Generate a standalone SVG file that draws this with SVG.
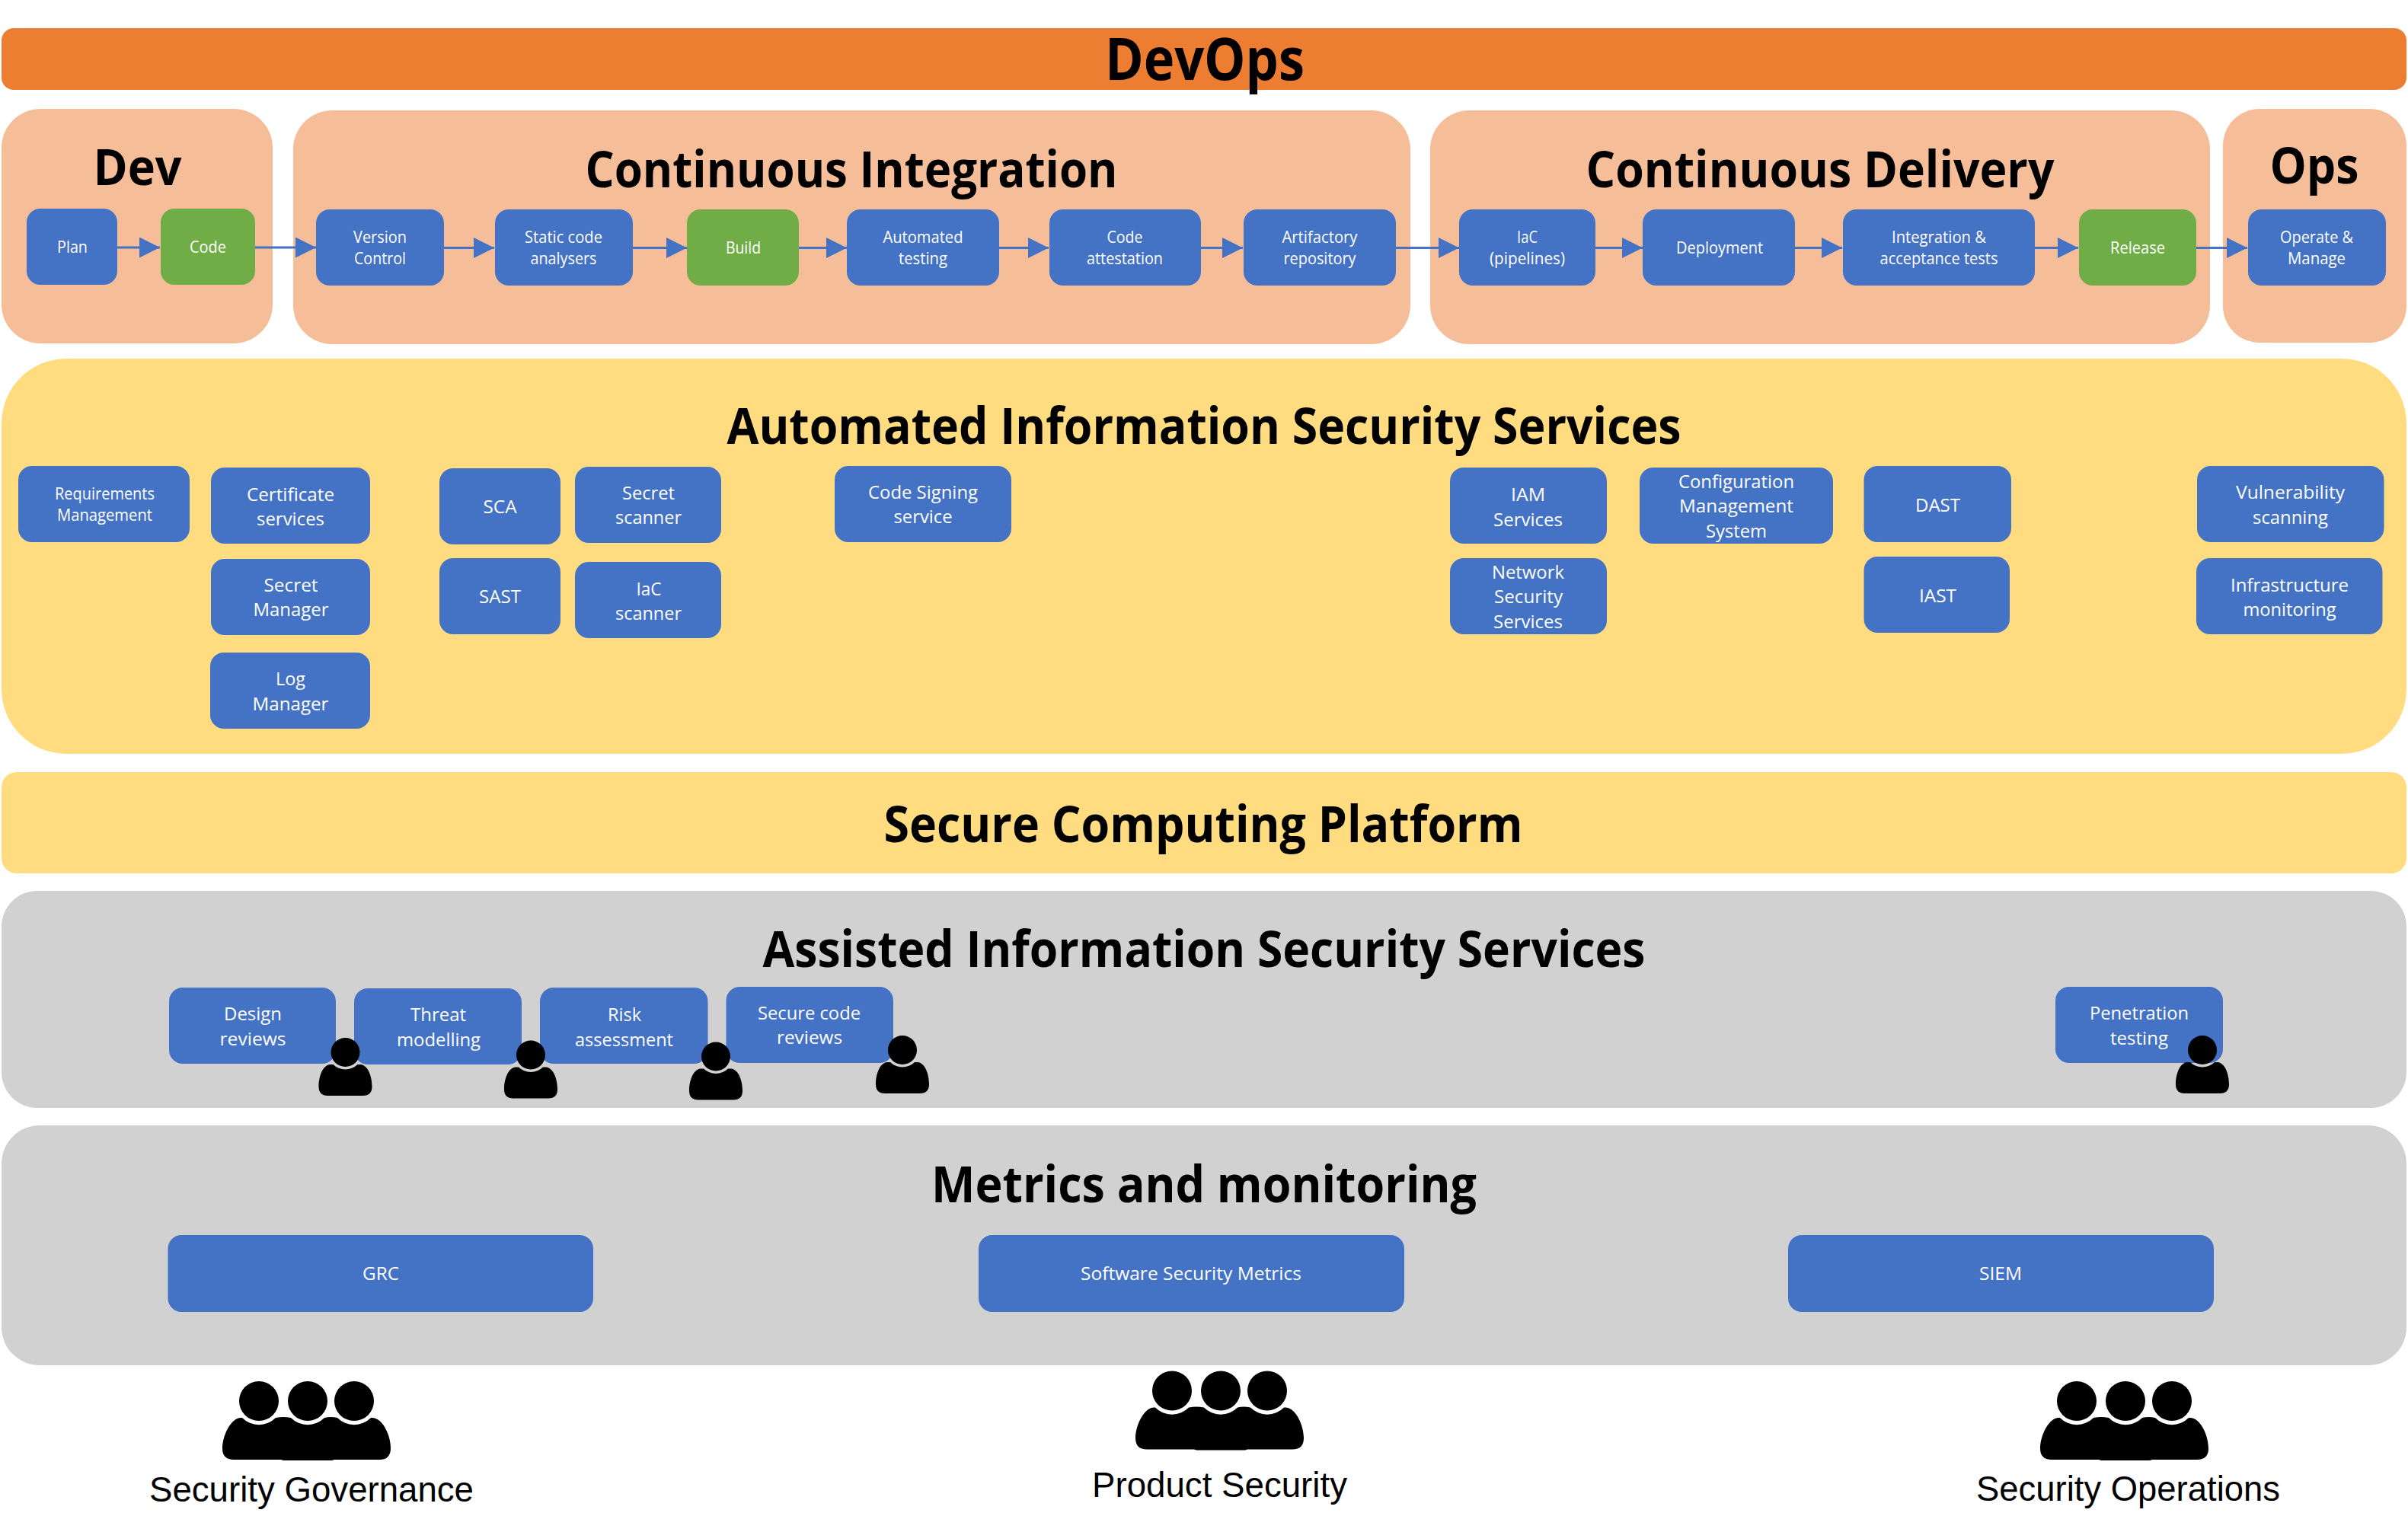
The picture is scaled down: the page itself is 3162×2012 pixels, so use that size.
<svg xmlns="http://www.w3.org/2000/svg" width="3162" height="2012" viewBox="0 0 3162 2012">
<style>
.bar{fill:#ED7D31}.peach{fill:#F6BD99}.yellow{fill:#FEDC7F}.grey{fill:#D1D1D1}
.b{fill:#4472C4}.g{fill:#70AD47}
.t{font-family:"Open Sans","Noto Sans",sans-serif;font-weight:700;font-size:67px;fill:#000;text-anchor:middle}
.s{font-family:"Open Sans","Noto Sans",sans-serif;font-size:21px;fill:#fff;text-anchor:middle}
.m{font-family:"Open Sans","Noto Sans",sans-serif;font-size:24px;fill:#fff;text-anchor:middle}
.l{font-family:"Liberation Sans",Arial,sans-serif;font-size:46px;fill:#000;text-anchor:middle}
.c{stroke:#4472C4;stroke-width:3;fill:none;marker-end:url(#arrow)}
</style>
<defs>
<marker id="arrow" viewBox="0 0 27 27" refX="27" refY="13.5" markerWidth="27" markerHeight="27" markerUnits="userSpaceOnUse" orient="auto"><path d="M0 0L27 13.5L0 27Z" fill="#4472C4"/></marker>
<path id="person" d="M-16,16A23 23 0 0 0 16,16L20,16C30,17 35,32 35,45Q35,57 23,57L-23,57Q-35,57 -35,45C-35,32 -30,17 -20,16L-16,16ZM19,0A19 19 0 1 1 -19,0A19 19 0 1 1 19,0Z" fill="#000"/>
<path id="team" d="M-86,22A31 31 0 0 0 -42,22Q-32,20 -22,22A31 31 0 0 0 22,22Q30,20 39,22A31 31 0 0 0 83,22C98,20 109,45 109,62Q109,77 94,77L35,77L32,78L-32,78L-35,77L-97,77Q-112,77 -112,62C-112,45 -100,20 -86,22ZM-38,0A26 26 0 1 1 -90,0A26 26 0 1 1 -38,0ZM26,0A26 26 0 1 1 -26,0A26 26 0 1 1 26,0ZM87,0A26 26 0 1 1 35,0A26 26 0 1 1 87,0Z" fill="#000"/>
</defs>

<g id="panel-devops"><rect class="bar" x="2" y="37" width="3158" height="81" rx="16"/><text class="t" style="font-size:77px" x="1582" y="105" textLength="262" lengthAdjust="spacingAndGlyphs">DevOps</text></g>
<g id="panel-dev"><rect class="peach" x="2" y="143" width="356" height="308" rx="51"/><text class="t" x="180.5" y="243" textLength="116" lengthAdjust="spacingAndGlyphs">Dev</text></g>
<g id="panel-ci"><rect class="peach" x="385" y="145" width="1467" height="307" rx="51"/><text class="t" x="1118" y="246" textLength="699" lengthAdjust="spacingAndGlyphs">Continuous Integration</text></g>
<g id="panel-cd"><rect class="peach" x="1878" y="145" width="1024" height="307" rx="51"/><text class="t" x="2390" y="246" textLength="615" lengthAdjust="spacingAndGlyphs">Continuous Delivery</text></g>
<g id="panel-ops"><rect class="peach" x="2919" y="143" width="241" height="307" rx="48"/><text class="t" x="3039" y="241" textLength="117" lengthAdjust="spacingAndGlyphs">Ops</text></g>
<g id="panel-automated"><rect class="yellow" x="2" y="471" width="3158" height="519" rx="85"/><text class="t" x="1581" y="583" textLength="1253" lengthAdjust="spacingAndGlyphs">Automated Information Security Services</text></g>
<g id="panel-platform"><rect class="yellow" x="2" y="1014" width="3158" height="133" rx="20"/><text class="t" x="1580" y="1106" textLength="839" lengthAdjust="spacingAndGlyphs">Secure Computing Platform</text></g>
<g id="panel-assisted"><rect class="grey" x="2" y="1170" width="3158" height="285" rx="47"/><text class="t" x="1581" y="1270" textLength="1159" lengthAdjust="spacingAndGlyphs">Assisted Information Security Services</text></g>
<g id="panel-metrics"><rect class="grey" x="2" y="1478" width="3158" height="315" rx="50"/><text class="t" x="1581" y="1579" textLength="716" lengthAdjust="spacingAndGlyphs">Metrics and monitoring</text></g>

<g id="connectors">
<line class="c" x1="154" y1="325" x2="210" y2="325"/>
<line class="c" x1="335" y1="325" x2="415" y2="325"/>
<line class="c" x1="583" y1="325.5" x2="649" y2="325.5"/>
<line class="c" x1="831" y1="325.5" x2="902" y2="325.5"/>
<line class="c" x1="1049" y1="325.5" x2="1112" y2="325.5"/>
<line class="c" x1="1312" y1="325.5" x2="1377" y2="325.5"/>
<line class="c" x1="1577" y1="325.5" x2="1632" y2="325.5"/>
<line class="c" x1="1833" y1="325.5" x2="1916" y2="325.5"/>
<line class="c" x1="2095" y1="325.5" x2="2157" y2="325.5"/>
<line class="c" x1="2357" y1="325.5" x2="2419" y2="325.5"/>
<line class="c" x1="2672" y1="325.5" x2="2729" y2="325.5"/>
<line class="c" x1="2884" y1="325.5" x2="2951" y2="325.5"/>
</g>

<g id="node-plan"><rect class="b" x="35" y="274" width="119" height="100" rx="18"/><text class="s" x="95" y="332" textLength="40" lengthAdjust="spacingAndGlyphs">Plan</text></g>
<g id="node-code"><rect class="g" x="211" y="274" width="124" height="100" rx="18"/><text class="s" x="273" y="332" textLength="48" lengthAdjust="spacingAndGlyphs">Code</text></g>
<g id="node-version-control"><rect class="b" x="415" y="275" width="168" height="100" rx="18"/><text class="s" x="499" y="319" textLength="70" lengthAdjust="spacingAndGlyphs">Version</text><text class="s" x="499" y="347" textLength="68" lengthAdjust="spacingAndGlyphs">Control</text></g>
<g id="node-static-code"><rect class="b" x="650" y="275" width="181" height="100" rx="18"/><text class="s" x="740" y="319" textLength="102" lengthAdjust="spacingAndGlyphs">Static code</text><text class="s" x="740" y="347" textLength="87" lengthAdjust="spacingAndGlyphs">analysers</text></g>
<g id="node-build"><rect class="g" x="902" y="275" width="147" height="100" rx="18"/><text class="s" x="976" y="333" textLength="46" lengthAdjust="spacingAndGlyphs">Build</text></g>
<g id="node-automated-testing"><rect class="b" x="1112" y="275" width="200" height="100" rx="18"/><text class="s" x="1212" y="319" textLength="105" lengthAdjust="spacingAndGlyphs">Automated</text><text class="s" x="1212" y="347" textLength="64" lengthAdjust="spacingAndGlyphs">testing</text></g>
<g id="node-code-attestation"><rect class="b" x="1378" y="275" width="199" height="100" rx="18"/><text class="s" x="1477" y="319" textLength="47" lengthAdjust="spacingAndGlyphs">Code</text><text class="s" x="1477" y="347" textLength="100" lengthAdjust="spacingAndGlyphs">attestation</text></g>
<g id="node-artifactory"><rect class="b" x="1633" y="275" width="200" height="100" rx="18"/><text class="s" x="1733" y="319" textLength="99" lengthAdjust="spacingAndGlyphs">Artifactory</text><text class="s" x="1733" y="347" textLength="95" lengthAdjust="spacingAndGlyphs">repository</text></g>
<g id="node-iac-pipelines"><rect class="b" x="1916" y="275" width="179" height="100" rx="18"/><text class="s" x="2005.5" y="319" textLength="27" lengthAdjust="spacingAndGlyphs">IaC</text><text class="s" x="2005.5" y="347" textLength="99" lengthAdjust="spacingAndGlyphs">(pipelines)</text></g>
<g id="node-deployment"><rect class="b" x="2157" y="275" width="200" height="100" rx="18"/><text class="s" x="2258" y="333" textLength="114" lengthAdjust="spacingAndGlyphs">Deployment</text></g>
<g id="node-integration"><rect class="b" x="2420" y="275" width="252" height="100" rx="18"/><text class="s" x="2546" y="319" textLength="124" lengthAdjust="spacingAndGlyphs">Integration &amp;</text><text class="s" x="2546" y="347" textLength="155" lengthAdjust="spacingAndGlyphs">acceptance tests</text></g>
<g id="node-release"><rect class="g" x="2730" y="275" width="154" height="100" rx="18"/><text class="s" x="2807" y="333" textLength="72" lengthAdjust="spacingAndGlyphs">Release</text></g>
<g id="node-operate"><rect class="b" x="2952" y="275" width="181" height="100" rx="18"/><text class="s" x="3042" y="319" textLength="96" lengthAdjust="spacingAndGlyphs">Operate &amp;</text><text class="s" x="3042" y="347" textLength="76" lengthAdjust="spacingAndGlyphs">Manage</text></g>

<g id="node-requirements"><rect class="b" x="24" y="612" width="225" height="100" rx="18"/><text class="s" x="137.5" y="656" textLength="131" lengthAdjust="spacingAndGlyphs">Requirements</text><text class="s" x="137.5" y="684" textLength="125" lengthAdjust="spacingAndGlyphs">Management</text></g>
<g id="node-certificate"><rect class="b" x="277" y="614" width="209" height="100" rx="18"/><text class="m" x="381.5" y="658" textLength="115" lengthAdjust="spacingAndGlyphs">Certificate</text><text class="m" x="381.5" y="690" textLength="89" lengthAdjust="spacingAndGlyphs">services</text></g>
<g id="node-secret-manager"><rect class="b" x="277" y="734" width="209" height="100" rx="18"/><text class="m" x="382" y="777" textLength="71" lengthAdjust="spacingAndGlyphs">Secret</text><text class="m" x="382" y="809" textLength="99" lengthAdjust="spacingAndGlyphs">Manager</text></g>
<g id="node-log-manager"><rect class="b" x="276" y="857" width="210" height="100" rx="18"/><text class="m" x="381.5" y="900" textLength="39" lengthAdjust="spacingAndGlyphs">Log</text><text class="m" x="381.5" y="933" textLength="100" lengthAdjust="spacingAndGlyphs">Manager</text></g>
<g id="node-sca"><rect class="b" x="577" y="615" width="159" height="100" rx="18"/><text class="m" x="656.5" y="674" textLength="44" lengthAdjust="spacingAndGlyphs">SCA</text></g>
<g id="node-secret-scanner"><rect class="b" x="755" y="613" width="192" height="100" rx="18"/><text class="m" x="851.5" y="656" textLength="69" lengthAdjust="spacingAndGlyphs">Secret</text><text class="m" x="851.5" y="688" textLength="87" lengthAdjust="spacingAndGlyphs">scanner</text></g>
<g id="node-sast"><rect class="b" x="577" y="733" width="159" height="100" rx="18"/><text class="m" x="656.5" y="792" textLength="55" lengthAdjust="spacingAndGlyphs">SAST</text></g>
<g id="node-iac-scanner"><rect class="b" x="755" y="738" width="192" height="100" rx="18"/><text class="m" x="852" y="782" textLength="33" lengthAdjust="spacingAndGlyphs">IaC</text><text class="m" x="851.5" y="814" textLength="87" lengthAdjust="spacingAndGlyphs">scanner</text></g>
<g id="node-code-signing"><rect class="b" x="1096" y="612" width="232" height="100" rx="18"/><text class="m" x="1212" y="655" textLength="144" lengthAdjust="spacingAndGlyphs">Code Signing</text><text class="m" x="1212" y="687" textLength="77" lengthAdjust="spacingAndGlyphs">service</text></g>
<g id="node-iam"><rect class="b" x="1904" y="614" width="206" height="100" rx="18"/><text class="m" x="2006.5" y="658" textLength="45" lengthAdjust="spacingAndGlyphs">IAM</text><text class="m" x="2006.5" y="691" textLength="91" lengthAdjust="spacingAndGlyphs">Services</text></g>
<g id="node-network"><rect class="b" x="1904" y="733" width="206" height="100" rx="18"/><text class="m" x="2006.5" y="760" textLength="95" lengthAdjust="spacingAndGlyphs">Network</text><text class="m" x="2007" y="792" textLength="90" lengthAdjust="spacingAndGlyphs">Security</text><text class="m" x="2006.5" y="825" textLength="91" lengthAdjust="spacingAndGlyphs">Services</text></g>
<g id="node-configuration"><rect class="b" x="2153" y="614" width="254" height="100" rx="18"/><text class="m" x="2280" y="641" textLength="152" lengthAdjust="spacingAndGlyphs">Configuration</text><text class="m" x="2280" y="673" textLength="150" lengthAdjust="spacingAndGlyphs">Management</text><text class="m" x="2280" y="706" textLength="80" lengthAdjust="spacingAndGlyphs">System</text></g>
<g id="node-dast"><rect class="b" x="2447.5" y="612" width="193.5" height="100" rx="18"/><text class="m" x="2544.5" y="672" textLength="59" lengthAdjust="spacingAndGlyphs">DAST</text></g>
<g id="node-iast"><rect class="b" x="2447.5" y="731" width="191.5" height="100" rx="18"/><text class="m" x="2544.5" y="791" textLength="49" lengthAdjust="spacingAndGlyphs">IAST</text></g>
<g id="node-vulnerability"><rect class="b" x="2885" y="612" width="245.5" height="100" rx="18"/><text class="m" x="3007.5" y="655" textLength="143" lengthAdjust="spacingAndGlyphs">Vulnerability</text><text class="m" x="3007.5" y="688" textLength="99" lengthAdjust="spacingAndGlyphs">scanning</text></g>
<g id="node-infrastructure"><rect class="b" x="2884" y="733" width="244.5" height="100" rx="18"/><text class="m" x="3006.5" y="777" textLength="155" lengthAdjust="spacingAndGlyphs">Infrastructure</text><text class="m" x="3006.5" y="809" textLength="122" lengthAdjust="spacingAndGlyphs">monitoring</text></g>

<g id="node-design-reviews"><rect class="b" x="222" y="1297" width="219" height="100" rx="18"/><text class="m" x="332" y="1340" textLength="76" lengthAdjust="spacingAndGlyphs">Design</text><text class="m" x="332" y="1373" textLength="87" lengthAdjust="spacingAndGlyphs">reviews</text></g>
<g id="node-threat-modelling"><rect class="b" x="465" y="1298" width="220" height="100" rx="18"/><text class="m" x="575.5" y="1341" textLength="73" lengthAdjust="spacingAndGlyphs">Threat</text><text class="m" x="576" y="1374" textLength="110" lengthAdjust="spacingAndGlyphs">modelling</text></g>
<g id="node-risk-assessment"><rect class="b" x="709" y="1297" width="220.5" height="100" rx="18"/><text class="m" x="820" y="1341" textLength="44" lengthAdjust="spacingAndGlyphs">Risk</text><text class="m" x="819.5" y="1374" textLength="129" lengthAdjust="spacingAndGlyphs">assessment</text></g>
<g id="node-secure-code-reviews"><rect class="b" x="953.5" y="1296" width="219.5" height="100" rx="18"/><text class="m" x="1062.5" y="1339" textLength="135" lengthAdjust="spacingAndGlyphs">Secure code</text><text class="m" x="1063" y="1371" textLength="86" lengthAdjust="spacingAndGlyphs">reviews</text></g>
<g id="node-penetration-testing"><rect class="b" x="2699" y="1296" width="220" height="100" rx="18"/><text class="m" x="2809" y="1339" textLength="130" lengthAdjust="spacingAndGlyphs">Penetration</text><text class="m" x="2809" y="1372" textLength="76" lengthAdjust="spacingAndGlyphs">testing</text></g>

<g id="node-grc"><rect class="b" x="220.5" y="1622" width="558.5" height="101" rx="18"/><text class="m" x="500" y="1681" textLength="48" lengthAdjust="spacingAndGlyphs">GRC</text></g>
<g id="node-software-metrics"><rect class="b" x="1285" y="1622" width="559" height="101" rx="18"/><text class="m" x="1564" y="1681" textLength="290" lengthAdjust="spacingAndGlyphs">Software Security Metrics</text></g>
<g id="node-siem"><rect class="b" x="2348" y="1622" width="559" height="101" rx="18"/><text class="m" x="2627" y="1681" textLength="56" lengthAdjust="spacingAndGlyphs">SIEM</text></g>

<g id="person-design"><use href="#person" x="453.5" y="1382"/></g>
<g id="person-threat"><use href="#person" x="697" y="1385.5"/></g>
<g id="person-risk"><use href="#person" x="940" y="1387.5"/></g>
<g id="person-secure-code"><use href="#person" x="1185" y="1379"/></g>
<g id="person-penetration"><use href="#person" x="2892" y="1379"/></g>

<g id="team-governance"><use href="#team" x="404" y="1840"/><text class="l" x="409" y="1972" textLength="426" lengthAdjust="spacingAndGlyphs">Security Governance</text></g>
<g id="team-product"><use href="#team" x="1603" y="1826.5"/><text class="l" x="1601.5" y="1966" textLength="335" lengthAdjust="spacingAndGlyphs">Product Security</text></g>
<g id="team-operations"><use href="#team" x="2791" y="1840"/><text class="l" x="2794.5" y="1971" textLength="399" lengthAdjust="spacingAndGlyphs">Security Operations</text></g>
</svg>
